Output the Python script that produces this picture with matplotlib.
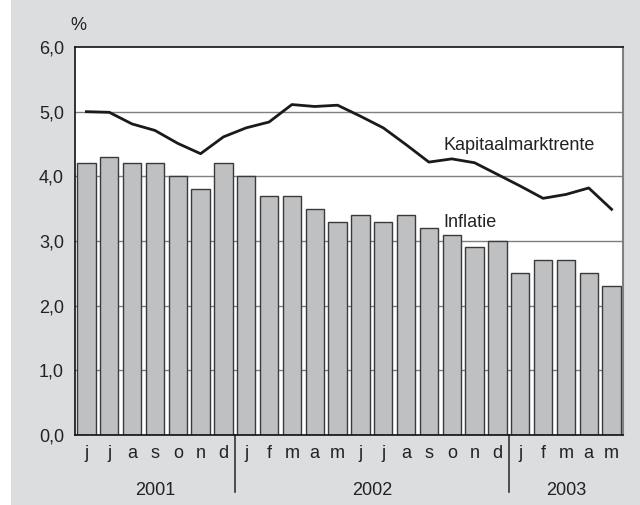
import matplotlib
matplotlib.use("Agg")
import matplotlib.pyplot as plt
from matplotlib.patches import Rectangle
import matplotlib.transforms as mtransforms

plt.rcParams['font.family'] = ['Liberation Sans', 'DejaVu Sans']

months = ['j', 'j', 'a', 's', 'o', 'n', 'd',
          'j', 'f', 'm', 'a', 'm', 'j', 'j', 'a', 's', 'o', 'n', 'd',
          'j', 'f', 'm', 'a', 'm']
years = ['2001', '2002', '2003']
year_counts = [7, 12, 5]
inflatie = [4.2, 4.3, 4.2, 4.2, 4.0, 3.8, 4.2,
            4.0, 3.7, 3.7, 3.5, 3.3, 3.4, 3.3, 3.4, 3.2, 3.1, 2.9, 3.0,
            2.5, 2.7, 2.7, 2.5, 2.3]
kapitaalmarktrente = [5.00, 4.99, 4.81, 4.71, 4.51, 4.35, 4.61,
                      4.75, 4.84, 5.11, 5.08, 5.10, 4.93, 4.75, 4.49, 4.22, 4.27, 4.21, 4.03,
                      3.85, 3.66, 3.72, 3.82, 3.49]
yticks = [0, 1, 2, 3, 4, 5, 6]
ytick_labels = ['0,0', '1,0', '2,0', '3,0', '4,0', '5,0', '6,0']

W, H = 640, 505
fig = plt.figure(figsize=(W / 100, H / 100), dpi=100, facecolor='white')
fig.patches.append(Rectangle((11 / W, 0), 1 - 11 / W, 1, transform=fig.transFigure,
                             facecolor='#dcdddf', edgecolor='none', zorder=-10))

ax = fig.add_axes([75 / W, 1 - 435 / H, (623 - 75) / W, (435 - 47) / H])
ax.set_facecolor('white')
x = list(range(len(months)))
ax.set_xlim(-0.5, len(months) - 0.5)
ax.set_ylim(0, 6)

for v in yticks[1:-1]:
    ax.axhline(v, color='#7f7f7f', lw=1.0, zorder=1)

ax.bar(x, inflatie, width=0.8, color='#bfc0c2', edgecolor='#3a3a3a', linewidth=1.0, zorder=2)
ax.plot(x, kapitaalmarktrente, color='#1a1a1a', lw=2.0, zorder=3)

ax.set_yticks(yticks)
ax.set_yticklabels(ytick_labels, fontsize=13, color='#222222')
ax.set_xticks(x)
ax.set_xticklabels(months, fontsize=13, color='#222222')
ax.tick_params(axis='y', length=0, pad=8)
ax.tick_params(axis='x', length=0, pad=7)

for s in ['top', 'left', 'bottom']:
    ax.spines[s].set_color('#111111')
    ax.spines[s].set_linewidth(1.2)
ax.spines['right'].set_color('#808080')
ax.spines['right'].set_linewidth(1.5)

trans = mtransforms.blended_transform_factory(ax.transData, ax.transAxes)
start = 0
for yr, n in zip(years, year_counts):
    center = start + (n - 1) / 2
    ax.text(center, -0.142, yr, transform=trans, ha='center', va='center',
            fontsize=13, color='#222222')
    if start > 0:
        ax.plot([start - 0.5, start - 0.5], [0, -0.147], transform=trans, color='#333333',
                lw=1.2, clip_on=False)
    start += n

ax.text(15.62, 4.47, 'Kapitaalmarktrente', fontsize=13, color='#222222', ha='left', va='center', zorder=4)
ax.text(15.62, 3.29, 'Inflatie', fontsize=13, color='#222222', ha='left', va='center', zorder=4)
fig.text(78 / W, 1 - 25 / H, '%', fontsize=13, color='#222222', ha='center', va='center')

fig.savefig('out.png', dpi=100, facecolor='white')
